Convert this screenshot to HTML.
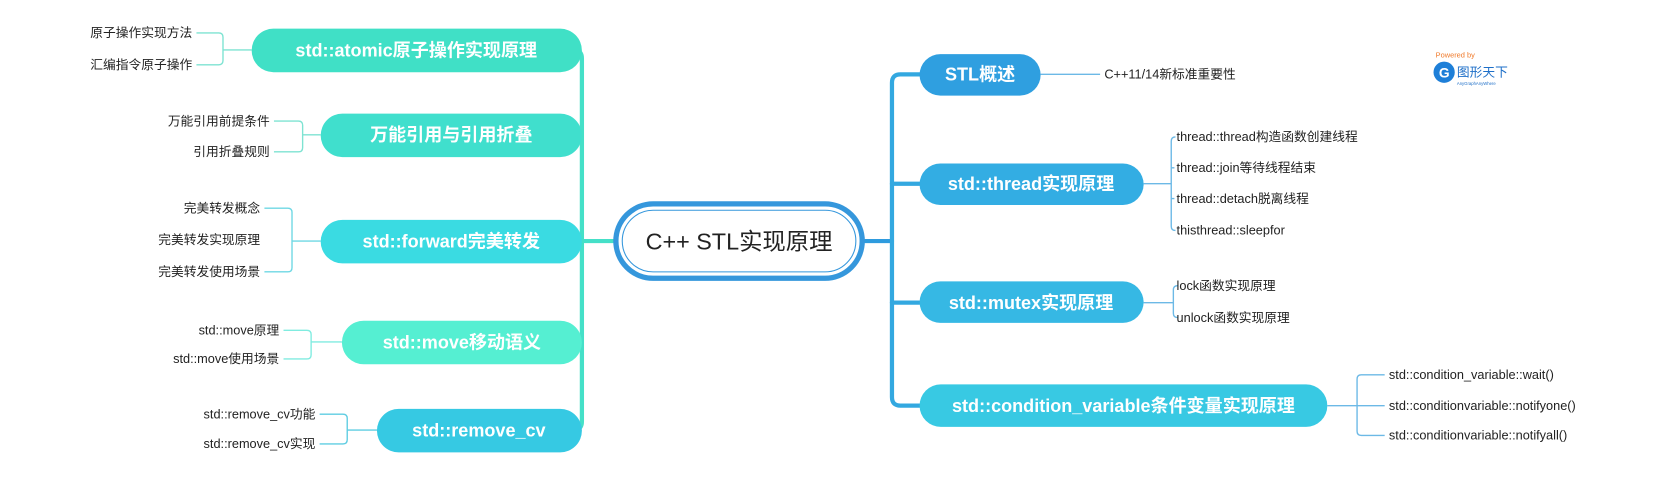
<!DOCTYPE html>
<html><head><meta charset="utf-8"><style>
html,body{margin:0;padding:0;background:#fff;}
svg{display:block;font-family:"Liberation Sans","Noto Sans CJK SC",sans-serif;}
.n{font-weight:bold;font-size:17px;fill:#fff;}
.c{font-size:12px;fill:#222;}
</style></head><body>
<svg width="1665" height="480" viewBox="0 0 1568 452" preserveAspectRatio="none" xmlns="http://www.w3.org/2000/svg">
<rect width="1568" height="452" fill="#fff"/>
<g fill="none" stroke-width="4" stroke-linecap="round">
<path d="M540 47 Q548 47 548 55 V397 Q548 405 540 405" stroke="#45e0c8"/>
<path d="M548 127 H540 M548 227 H540 M548 322 H540" stroke="#45e0c8"/>
<path d="M548 227 H583" stroke="#45e0c8"/>
<path d="M812 227 H840" stroke="#2e9bde"/>
<path d="M866 70 H848 Q840 70 840 78 V374 Q840 382 848 382 H866" stroke="#33a8e0"/>
<path d="M840 173 H866 M840 285 H866" stroke="#33a8e0"/>
</g>
<g fill="none" stroke="#7ee3d2" stroke-width="1.3">
<path d="M237 47 H210 M185 31 H206 Q210 31 210 35 V57 Q210 61 206 61 H185"/>
<path d="M302 127 H285 M258 114 H281 Q285 114 285 118 V139 Q285 143 281 143 H258"/>
</g>
<g fill="none" stroke="#6fd8e4" stroke-width="1.3">
<path d="M302 227 H275 M249 196 H271 Q275 196 275 200 V252 Q275 256 271 256 H249"/>
</g>
<g fill="none" stroke="#80ece0" stroke-width="1.3">
<path d="M322 322 H293 M267 311 H289 Q293 311 293 315 V334 Q293 338 289 338 H267"/>
</g>
<g fill="none" stroke="#5fcde2" stroke-width="1.3">
<path d="M355 405 H327 M301 390 H323 Q327 390 327 394 V414 Q327 418 323 418 H301"/>
</g>
<g fill="none" stroke="#6cb9e6" stroke-width="1.3">
<path d="M980 70 H1036"/>
<path d="M1077 173 H1103 M1106 129 H1107 Q1103 129 1103 133 V213 Q1103 217 1107 217 M1103 158 H1106 M1103 187 H1106"/>
<path d="M1077 285 H1105 M1108 269 H1109 Q1105 269 1105 273 V295 Q1105 299 1109 299"/>
<path d="M1250 382 H1278 M1304 353 H1282 Q1278 353 1278 357 V406 Q1278 410 1282 410 H1304 M1278 382 H1304"/>
</g>
<rect x="237" y="27" width="311" height="41" rx="20.5" fill="#40e0c6"/>
<text class="n" x="392" y="53" text-anchor="middle">std::atomic原子操作实现原理</text>
<rect x="302" y="107" width="246" height="41" rx="20.5" fill="#40dfcd"/>
<text class="n" x="425" y="133" text-anchor="middle">万能引用与引用折叠</text>
<rect x="302" y="207" width="246" height="41" rx="20.5" fill="#3adbe2"/>
<text class="n" x="425" y="233" text-anchor="middle">std::forward完美转发</text>
<rect x="322" y="302" width="226" height="41" rx="20.5" fill="#55efd2"/>
<text class="n" x="435" y="328" text-anchor="middle">std::move移动语义</text>
<rect x="355" y="385" width="193" height="41" rx="20.5" fill="#36c9e3"/>
<text class="n" x="451" y="411" text-anchor="middle">std::remove_cv</text>
<rect x="580" y="192" width="232" height="70" rx="35" fill="#fff" stroke="#3597dc" stroke-width="5"/>
<rect x="586" y="198" width="220" height="58" rx="29" fill="none" stroke="#3597dc" stroke-width="1"/>
<text x="696" y="235" text-anchor="middle" font-size="22" fill="#222">C++ STL实现原理</text>
<rect x="866" y="51" width="114" height="39" rx="19.5" fill="#2f9fe0"/>
<text class="n" x="923" y="76" text-anchor="middle">STL概述</text>
<rect x="866" y="154" width="211" height="39" rx="19.5" fill="#33ade3"/>
<text class="n" x="971" y="179" text-anchor="middle">std::thread实现原理</text>
<rect x="866" y="265" width="211" height="39" rx="19.5" fill="#36b8e4"/>
<text class="n" x="971" y="291" text-anchor="middle">std::mutex实现原理</text>
<rect x="866" y="362" width="384" height="40" rx="20" fill="#38c9e3"/>
<text class="n" x="1058" y="388" text-anchor="middle">std::condition_variable条件变量实现原理</text>
<g class="c" text-anchor="end">
<text x="181" y="35">原子操作实现方法</text>
<text x="181" y="65">汇编指令原子操作</text>
<text x="254" y="118">万能引用前提条件</text>
<text x="254" y="147">引用折叠规则</text>
<text x="245" y="200">完美转发概念</text>
<text x="245" y="230">完美转发实现原理</text>
<text x="245" y="260">完美转发使用场景</text>
<text x="263" y="315">std::move原理</text>
<text x="263" y="342">std::move使用场景</text>
<text x="297" y="394">std::remove_cv功能</text>
<text x="297" y="422">std::remove_cv实现</text>
</g>
<g class="c">
<text x="1040" y="74">C++11/14新标准重要性</text>
<text x="1108" y="133">thread::thread构造函数创建线程</text>
<text x="1108" y="162">thread::join等待线程结束</text>
<text x="1108" y="191">thread::detach脱离线程</text>
<text x="1108" y="221">thisthread::sleepfor</text>
<text x="1108" y="273">lock函数实现原理</text>
<text x="1108" y="303">unlock函数实现原理</text>
<text x="1308" y="357">std::condition_variable::wait()</text>
<text x="1308" y="386">std::conditionvariable::notifyone()</text>
<text x="1308" y="414">std::conditionvariable::notifyall()</text>
</g>
<text x="1352" y="54" font-size="7" fill="#f07a2a">Powered by</text>
<circle cx="1360" cy="68" r="10" fill="#1e7fd8"/>
<text x="1355" y="73" font-size="13" font-weight="bold" fill="#fff">G</text>
<text x="1372" y="72" font-size="12" fill="#1e6fc8">图形天下</text>
<text x="1372" y="80" font-size="4" fill="#1e6fc8">AnyGraphAnyWhere</text>
</svg>
</body></html>
